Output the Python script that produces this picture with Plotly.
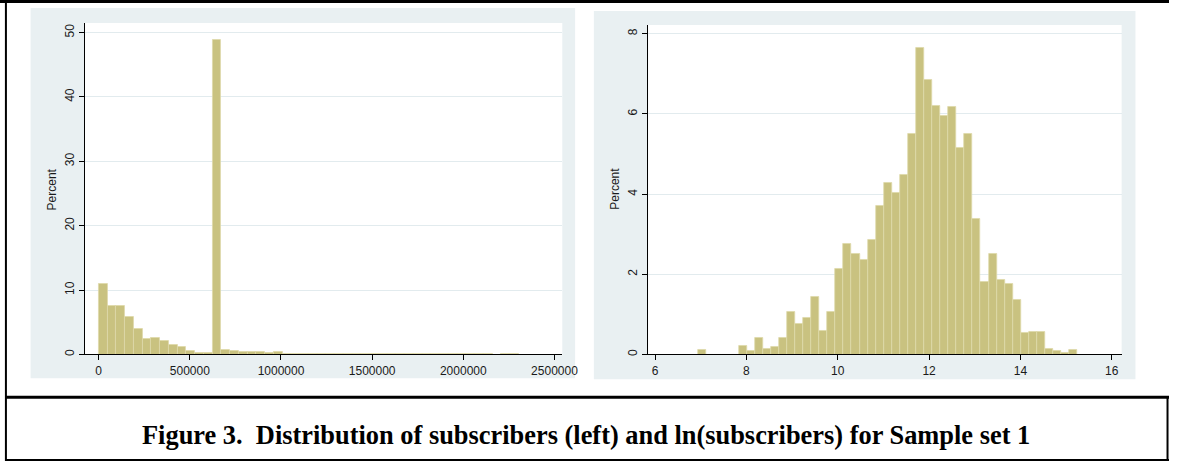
import plotly.graph_objects as go

W_PX, H_PX = 1185, 463

# ---------------- data ----------------
left_bin_width = 48000
left_percent = [11.0, 7.6, 7.6, 5.8, 3.9, 2.4, 2.6, 2.06, 1.5, 1.1,
                0.5, 0.3, 0.3, 48.8, 0.75, 0.55, 0.4, 0.4, 0.4, 0.3,
                0.4, 0.12, 0.12, 0.12, 0.12, 0.12, 0.12, 0.12, 0.12, 0.12,
                0.12, 0.12, 0.12, 0.12, 0.12, 0.12, 0.12, 0.12, 0.12, 0.12,
                0.12, 0.12, 0.12, 0.12, 0.12, 0.0, 0.12, 0.12]
left_xticks = [0, 500000, 1000000, 1500000, 2000000, 2500000]
left_yticks = [0, 10, 20, 30, 40, 50]

right_bin_start = 6.95
right_bin_width = 0.1765
right_percent = [0.12, 0, 0, 0, 0, 0.22, 0.1, 0.42, 0.13, 0.19,
                 0.42, 1.05, 0.77, 0.9, 1.43, 0.58, 1.05, 2.14, 2.75, 2.5,
                 2.35, 2.85, 3.71, 4.29, 4.03, 4.48, 5.5, 7.64, 6.86, 6.19,
                 5.95, 6.17, 5.14, 5.5, 3.39, 1.82, 2.52, 1.86, 1.77, 1.35,
                 0.53, 0.56, 0.56, 0.13, 0.08, 0.05, 0.12]
right_xticks = [6, 8, 10, 12, 14, 16]
right_yticks = [0, 2, 4, 6, 8]

caption = "Figure 3.  Distribution of subscribers (left) and ln(subscribers) for Sample set 1"
ytitle = "Percent"

# ---------------- helpers (pixel -> paper) ----------------
def PX(x):
    return x / W_PX

def PY(y):
    return 1 - y / H_PX

bar_color = "rgb(201,194,128)"
bar_line = "rgb(222,217,170)"
panel_bg = "#e9f0f2"
grid_col = "#e2ebee"
tick_font = dict(family="Liberation Sans, Arial, sans-serif", size=12, color="#1a1a1a")

left_x = [left_bin_width * (i + 0.5) for i in range(len(left_percent))]
right_x = [right_bin_start + right_bin_width * (i + 0.5) for i in range(len(right_percent))]

fig = go.Figure()
fig.add_trace(go.Bar(x=left_x, y=left_percent, width=left_bin_width,
                     marker=dict(color=bar_color, line=dict(color=bar_line, width=0.8)),
                     xaxis="x", yaxis="y", showlegend=False))
fig.add_trace(go.Bar(x=right_x, y=right_percent, width=right_bin_width,
                     marker=dict(color=bar_color, line=dict(color=bar_line, width=0.8)),
                     xaxis="x2", yaxis="y2", showlegend=False))

axis_common = dict(showline=True, linecolor="black", linewidth=1, ticks="outside",
                   ticklen=5, tickcolor="black", tickwidth=1, tickfont=tick_font,
                   zeroline=False)

L_PLOT = (86, 570, 23, 356)
R_PLOT = (657, 1137, 25, 356)

fig.update_layout(
    width=W_PX, height=H_PX,
    margin=dict(l=0, r=0, t=0, b=0),
    paper_bgcolor="white", plot_bgcolor="white",
    bargap=0,
    xaxis=dict(domain=[PX(L_PLOT[0]), PX(L_PLOT[1])], anchor="y", range=[-76000, 2543000],
               tickvals=left_xticks, tickformat="d", showgrid=False, **axis_common),
    yaxis=dict(domain=[PY(L_PLOT[3]), PY(L_PLOT[2])], anchor="x", range=[0, 51.5],
               tickvals=left_yticks, tickangle=-90, showgrid=True, gridcolor=grid_col,
               gridwidth=1, **axis_common),
    xaxis2=dict(domain=[PX(R_PLOT[0]), PX(R_PLOT[1])], anchor="y2", range=[5.849, 16.216],
                tickvals=right_xticks, showgrid=False, **axis_common),
    yaxis2=dict(domain=[PY(R_PLOT[3]), PY(R_PLOT[2])], anchor="x2", range=[0, 8.22],
                tickvals=right_yticks, tickangle=-90, showgrid=True, gridcolor=grid_col,
                gridwidth=1, **axis_common),
)

shapes = [
    # gray graph regions
    dict(type="rect", xref="paper", yref="paper", x0=PX(31), x1=PX(583), y0=PY(380), y1=PY(8),
         fillcolor=panel_bg, line=dict(width=0), layer="below"),
    dict(type="rect", xref="paper", yref="paper", x0=PX(602), x1=PX(1151), y0=PY(381), y1=PY(11),
         fillcolor=panel_bg, line=dict(width=0), layer="below"),
    # white plot regions
    dict(type="rect", xref="paper", yref="paper", x0=PX(L_PLOT[0]), x1=PX(L_PLOT[1]),
         y0=PY(L_PLOT[3]), y1=PY(L_PLOT[2]), fillcolor="white", line=dict(width=0), layer="below"),
    dict(type="rect", xref="paper", yref="paper", x0=PX(R_PLOT[0]), x1=PX(R_PLOT[1]),
         y0=PY(R_PLOT[3]), y1=PY(R_PLOT[2]), fillcolor="white", line=dict(width=0), layer="below"),
    # frame lines
    dict(type="line", xref="paper", yref="paper", x0=0, x1=1, y0=PY(1.5), y1=PY(1.5),
         line=dict(color="black", width=3)),
    dict(type="line", xref="paper", yref="paper", x0=PX(6), x1=PX(6), y0=0, y1=1,
         line=dict(color="black", width=2)),
    dict(type="line", xref="paper", yref="paper", x0=PX(6), x1=1, y0=PY(399), y1=PY(399),
         line=dict(color="black", width=3)),
    dict(type="line", xref="paper", yref="paper", x0=PX(6), x1=1, y0=PY(462), y1=PY(462),
         line=dict(color="black", width=2)),
    dict(type="line", xref="paper", yref="paper", x0=PX(1183.5), x1=PX(1183.5), y0=PY(463), y1=PY(399),
         line=dict(color="black", width=2)),
]
fig.update_layout(shapes=shapes)

annotations = [
    dict(text=ytitle, xref="paper", yref="paper", x=PX(53), y=PY(190), textangle=-90,
         showarrow=False, font=dict(family="Liberation Sans, Arial, sans-serif", size=12, color="#1a1a1a"),
         xanchor="center", yanchor="middle"),
    dict(text=ytitle, xref="paper", yref="paper", x=PX(624), y=PY(190), textangle=-90,
         showarrow=False, font=dict(family="Liberation Sans, Arial, sans-serif", size=12, color="#1a1a1a"),
         xanchor="center", yanchor="middle"),
    dict(text="<b>" + caption + "</b>", xref="paper", yref="paper", x=PX(594), y=PY(437),
         showarrow=False, font=dict(family="Liberation Serif, Times New Roman, serif", size=26.4, color="black"),
         xanchor="center", yanchor="middle"),
]
fig.update_layout(annotations=annotations)

fig.write_html(
    "out.html",
    config={"displayModeBar": False},
    post_script="document.documentElement.style.overflow='hidden';"
                "document.body.style.overflow='hidden';document.body.style.margin='0';",
)
